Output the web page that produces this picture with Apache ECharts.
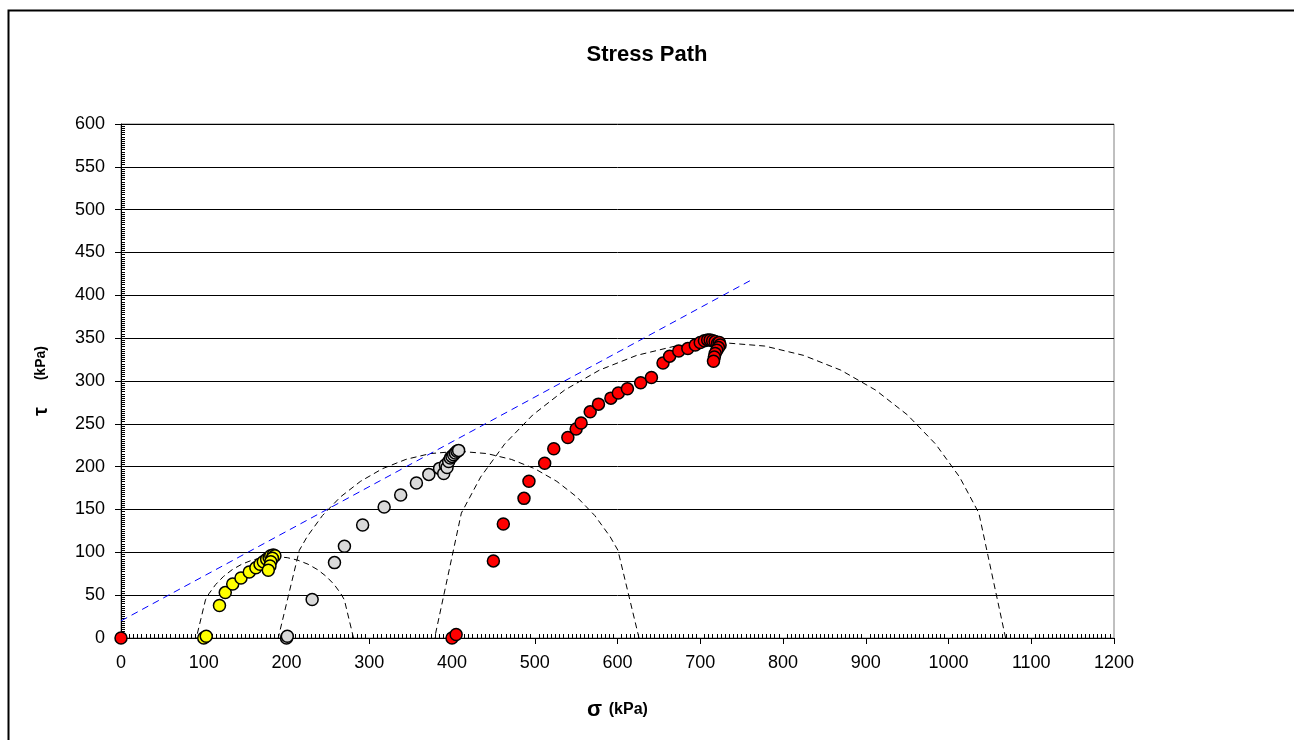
<!DOCTYPE html>
<html><head><meta charset="utf-8">
<script src="https://cdn.jsdelivr.net/npm/echarts@6/dist/echarts.min.js"></script>
<style>html,body{margin:0;padding:0;background:#fff}#c{width:1294px;height:740px}</style>
</head><body><div id="c"></div>
<script>
// ---- data (σ, τ in kPa) ----
const xTickLabels = ['0','100','200','300','400','500','600','700','800','900','1000','1100','1200'];
const yTickLabels = ['0','50','100','150','200','250','300','350','400','450','500','550','600'];

const redPath = [[0,0],[400,0],[405,4],[450,90],[462,133],[487,163],[493,183],[512,204],[523,221],[540,234],[550,244],[556,251],[567,264],[577,273],[592,280],[601,286],[612,291],[628,298],[641,304],[655,321],[663,329],[674,335],[685,338],[694,342],[700,345],[705,347],[709,348],[712,348],[715,347],[718,346],[721,344],[723,345],[724,342],[722,339],[720,336],[718,332],[717,328],[716,323]];
const yellowPath = [[100,0],[103,2],[119,38],[126,53],[135,63],[145,70],[155,77],[163,82],[168,86],[172,89],[176,92],[179,94],[181,96],[184,97],[186,96],[183,93],[181,89],[180,84],[178,79]];
const grayPath = [[200,0],[201,2],[231,45],[258,88],[270,107],[292,132],[318,153],[338,167],[357,181],[372,191],[385,198],[390,192],[392,202],[394,199],[396,206],[398,210],[400,212],[402,214],[404,216],[406,218],[408,219]];

const envelope = [[0,20],[760,417]];

const mohrSmall = [[281,0],[269.9,44.6],[265.7,51.7],[257.7,62.3],[248.3,71.7],[237.7,79.7],[226.1,86.1],[213.8,90.8],[200.9,93.8],[186,95],[171.1,93.8],[158.2,90.8],[145.9,86.1],[134.3,79.7],[123.7,71.7],[114.3,62.3],[106.3,51.7],[102.1,44.6],[91,0]];
const mohrMedium = [[626,0],[600.5,102.4],[590.8,118.7],[572.5,143],[551,164.5],[526.7,182.8],[500.1,197.6],[471.7,208.5],[442.1,215.3],[408,218],[373.9,215.3],[344.3,208.5],[315.9,197.6],[289.3,182.8],[265,164.5],[243.5,143],[225.2,118.7],[215.5,102.4],[190,0]];
const mohrLarge = [[1069,0],[1036.7,145.8],[1013.4,187.9],[984.4,226.4],[950.4,260.4],[911.9,289.4],[869.8,312.7],[824.9,329.9],[778,340.8],[724,345],[670,340.8],[623.1,329.9],[578.2,312.7],[536.1,289.4],[497.6,260.4],[463.6,226.4],[434.6,187.9],[411.3,145.8],[379,0]];

// ---- chart ----
const FONT = 'Arial, "Liberation Sans", Helvetica, sans-serif';
const chart = echarts.init(document.getElementById('c'), null, {renderer: 'canvas'});

function circleSeries(data) {
  return {
    type: 'line', data: data, showSymbol: false, symbol: 'none', smooth: false,
    lineStyle: {color: '#000', width: 1, type: [6, 4]}, z: 2, silent: true
  };
}
function pointSeries(data, color) {
  return {
    type: 'scatter', data: data, symbol: 'circle', symbolSize: 12,
    itemStyle: {color: color, borderColor: '#000', borderWidth: 1.5, opacity: 1}, z: 5
  };
}

const option = {
  animation: false,
  backgroundColor: '#fff',
  title: {
    text: 'Stress Path', left: 'center', top: 39,
    textStyle: {fontFamily: FONT, fontSize: 22, fontWeight: 'bold', color: '#000'}
  },
  graphic: [{
    type: 'rect', left: 6, top: 8, silent: true,
    shape: {x: 0, y: 0, width: 1300, height: 745},
    style: {fill: 'none', stroke: '#000', lineWidth: 2}
  }],
  grid: {
    left: 121, top: 124, width: 993, height: 514,
    show: true, borderColor: '#808080', borderWidth: 1, backgroundColor: 'transparent'
  },
  xAxis: {
    type: 'value', min: 0, max: 1200, interval: 100,
    name: '{s|σ}  {k|(kPa)}', nameLocation: 'middle', nameGap: 61,
    nameTextStyle: {
      fontFamily: FONT, color: '#000',
      rich: {
        s: {fontFamily: FONT, fontSize: 22, fontWeight: 'bold', color: '#000'},
        k: {fontFamily: FONT, fontSize: 16, fontWeight: 'bold', color: '#000'}
      }
    },
    axisLine: {show: true, onZero: false, lineStyle: {color: '#000', width: 1}},
    axisTick: {show: true, inside: false, length: 6, lineStyle: {color: '#000', width: 1}},
    minorTick: {show: true, splitNumber: 20, length: -4, lineStyle: {color: '#000', width: 1}},
    splitLine: {show: false},
    axisLabel: {
      margin: 16, fontFamily: FONT, fontSize: 18, color: '#000',
      formatter: v => xTickLabels[Math.round(v / 100)]
    }
  },
  yAxis: {
    type: 'value', min: 0, max: 600, interval: 50,
    name: '{t|τ}        {k|(kPa)}', nameLocation: 'middle', nameRotate: 90, nameGap: 70,
    nameTextStyle: {
      fontFamily: FONT, color: '#000',
      rich: {
        t: {fontFamily: FONT, fontSize: 20, fontWeight: 'bold', color: '#000'},
        k: {fontFamily: FONT, fontSize: 14, fontWeight: 'bold', color: '#000'}
      }
    },
    axisLine: {show: true, onZero: false, lineStyle: {color: '#000', width: 1}},
    axisTick: {show: true, inside: false, length: 6, lineStyle: {color: '#000', width: 1}},
    minorTick: {show: true, splitNumber: 20, length: -4, lineStyle: {color: '#000', width: 1}},
    splitLine: {show: true, lineStyle: {color: '#000', width: 1}},
    axisLabel: {
      margin: 16, fontFamily: FONT, fontSize: 18, color: '#000',
      formatter: v => yTickLabels[Math.round(v / 50)]
    }
  },
  series: [
    circleSeries(mohrSmall),
    circleSeries(mohrMedium),
    circleSeries(mohrLarge),
    {
      type: 'line', data: envelope, showSymbol: false, symbol: 'none',
      lineStyle: {color: '#0000ff', width: 1, type: [7, 5]}, z: 3, silent: true
    },
    pointSeries(grayPath, '#d9d9d9'),
    pointSeries(yellowPath, '#ffff00'),
    pointSeries(redPath, '#ff0000')
  ]
};
chart.setOption(option);
</script>
</body></html>
